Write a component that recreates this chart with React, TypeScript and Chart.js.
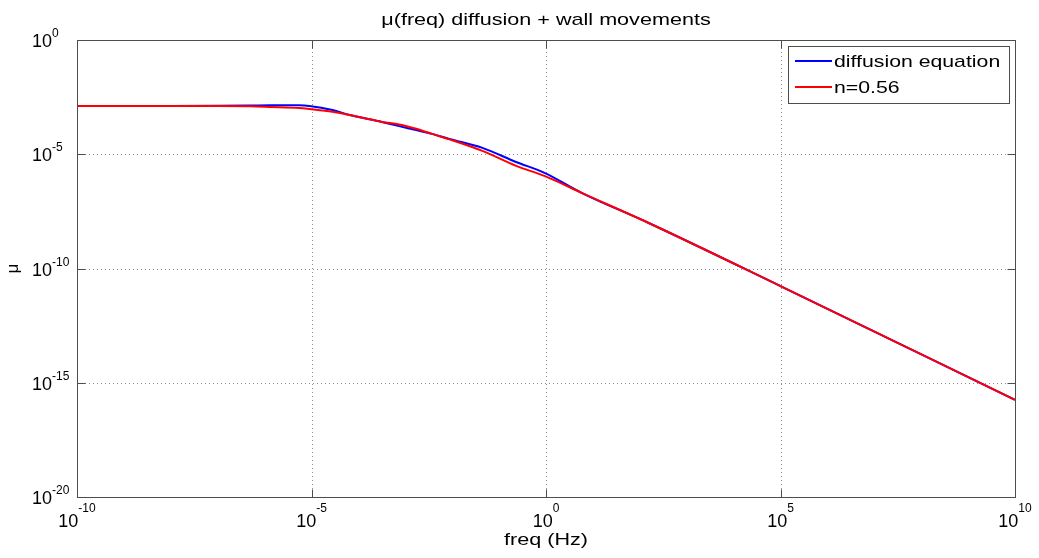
import React, { useEffect, useRef } from "react";
import { Chart, registerables } from "chart.js";

Chart.register(...registerables);

// ---- data ----
const freq = [1e-10, 1e-8, 1e-7, 5e-7, 1.3e-6, 5.5e-6, 9e-6, 2.8e-5, 6.5e-5, 3.2e-4, 7.4e-4, 1.7e-3, 3.7e-3, 8.7e-3, 0.044, 0.23, 0.95, 5.9, 155, 1e5, 1e10];
const muDiffusion = [1.3e-3, 1.3e-3, 1.32e-3, 1.35e-3, 1.38e-3, 1.38e-3, 1.3e-3, 8.7e-4, 5.2e-4, 2.6e-4, 1.7e-4, 1.15e-4, 7.8e-5, 4.7e-5, 1.9e-5, 4.6e-6, 1.5e-6, 2.0e-7, 9.8e-9, 1.7e-11, 1.8e-16];
const muFit = [1.3e-3, 1.3e-3, 1.3e-3, 1.25e-3, 1.17e-3, 1.05e-3, 9.5e-4, 7.2e-4, 5.2e-4, 2.6e-4, 2.0e-4, 1.3e-4, 7.8e-5, 4.5e-5, 1.4e-5, 3.1e-6, 1.1e-6, 2.0e-7, 9.8e-9, 1.7e-11, 1.8e-16];
const seriesLabels = ["diffusion equation", "n=0.56"];
const xTickExponents = [-10, -5, 0, 5, 10];
const yTickExponents = [-20, -15, -10, -5, 0];
const titleText = "\u03bc(freq) diffusion + wall movements";
const xTitle = "freq (Hz)";
const yTitle = "\u03bc";

const FONT = '"Liberation Sans", Arial, sans-serif';
const SX = 1.27;

function stretchedText(ctx: CanvasRenderingContext2D, text: string, x: number, y: number, size: number, align: CanvasTextAlign, sx: number) {
  ctx.save();
  ctx.font = `${size}px ${FONT}`;
  ctx.textAlign = align;
  ctx.textBaseline = "alphabetic";
  ctx.translate(x, y);
  ctx.scale(sx, 1);
  ctx.fillText(text, 0, 0);
  ctx.restore();
}

const matlabPlugin = {
  id: "matlabDecor",
  beforeDatasetsDraw(chart: any) {
    const ctx = chart.ctx as CanvasRenderingContext2D;
    const { left, right, top, bottom } = chart.chartArea;
    const xs = chart.scales.x;
    const ys = chart.scales.y;
    ctx.save();
    ctx.strokeStyle = "#8c8c8c";
    ctx.lineWidth = 1;
    ctx.setLineDash([1, 3]);
    xTickExponents.forEach((e) => {
      const px = Math.round(xs.getPixelForValue(Math.pow(10, e))) + 0.5;
      if (px <= left + 1 || px >= right - 1) return;
      ctx.beginPath();
      ctx.moveTo(px, top);
      ctx.lineTo(px, bottom);
      ctx.stroke();
    });
    yTickExponents.forEach((e) => {
      const py = Math.round(ys.getPixelForValue(Math.pow(10, e))) + 0.5;
      if (py <= top + 1 || py >= bottom - 1) return;
      ctx.beginPath();
      ctx.moveTo(left, py);
      ctx.lineTo(right, py);
      ctx.stroke();
    });
    ctx.restore();
  },
  afterDraw(chart: any) {
    const ctx = chart.ctx as CanvasRenderingContext2D;
    const { left, right, top, bottom } = chart.chartArea;
    const xs = chart.scales.x;
    const ys = chart.scales.y;
    const L = Math.round(left) + 0.5;
    const R = Math.round(right) + 0.5;
    const T = Math.round(top) + 0.5;
    const B = Math.round(bottom) + 0.5;
    ctx.save();
    // box
    ctx.strokeStyle = "#4d4d4d";
    ctx.lineWidth = 1;
    ctx.strokeRect(L, T, R - L, B - T);
    // inward ticks
    const tl = 8;
    xTickExponents.forEach((e) => {
      const px = Math.round(xs.getPixelForValue(Math.pow(10, e))) + 0.5;
      ctx.beginPath();
      ctx.moveTo(px, B);
      ctx.lineTo(px, B - tl);
      ctx.moveTo(px, T);
      ctx.lineTo(px, T + tl);
      ctx.stroke();
    });
    yTickExponents.forEach((e) => {
      const py = Math.round(ys.getPixelForValue(Math.pow(10, e))) + 0.5;
      ctx.beginPath();
      ctx.moveTo(L, py);
      ctx.lineTo(L + tl, py);
      ctx.moveTo(R, py);
      ctx.lineTo(R - tl, py);
      ctx.stroke();
    });
    // tick labels
    ctx.fillStyle = "#000";
    ctx.textBaseline = "alphabetic";
    xTickExponents.forEach((e) => {
      const px = xs.getPixelForValue(Math.pow(10, e));
      ctx.font = `18px ${FONT}`;
      const w1 = ctx.measureText("10").width;
      ctx.font = `12px ${FONT}`;
      const es = String(e);
      const w2 = ctx.measureText(es).width;
      const x0 = px - (w1 + w2) / 2;
      ctx.textAlign = "left";
      ctx.font = `18px ${FONT}`;
      ctx.fillText("10", x0, bottom + 30);
      ctx.font = `12px ${FONT}`;
      ctx.fillText(es, x0 + w1, bottom + 15);
    });
    yTickExponents.forEach((e) => {
      const py = ys.getPixelForValue(Math.pow(10, e));
      ctx.textAlign = "left";
      ctx.font = `18px ${FONT}`;
      const w1 = ctx.measureText("10").width;
      ctx.fillText("10", 32, py + 7);
      ctx.font = `12px ${FONT}`;
      ctx.fillText(String(e), 32 + w1, py - 3);
    });
    // titles
    const cx = (left + right) / 2;
    stretchedText(ctx, titleText, cx, 25, 17, "center", SX);
    stretchedText(ctx, xTitle, cx, 545, 17, "center", SX);
    ctx.save();
    ctx.translate(13, (top + bottom) / 2);
    ctx.rotate(-Math.PI / 2);
    ctx.font = `17px ${FONT}`;
    ctx.textAlign = "center";
    ctx.textBaseline = "middle";
    ctx.fillText(yTitle, 0, 0);
    ctx.restore();
    // legend
    const lx = 788.5, ly = 46.5, lw = 221, lh = 57;
    ctx.fillStyle = "#fff";
    ctx.fillRect(lx, ly, lw, lh);
    ctx.strokeStyle = "#4d4d4d";
    ctx.lineWidth = 1;
    ctx.strokeRect(lx, ly, lw, lh);
    const ds = chart.data.datasets;
    const rowsY = [61, 87];
    [0, 1].forEach((i) => {
      const d = ds.find((q: any) => q.label === seriesLabels[i]);
      ctx.strokeStyle = d.borderColor;
      ctx.lineWidth = 2;
      ctx.beginPath();
      ctx.moveTo(795, rowsY[i]);
      ctx.lineTo(832, rowsY[i]);
      ctx.stroke();
      ctx.fillStyle = "#000";
      stretchedText(ctx, seriesLabels[i], 834, rowsY[i] + 6, 17, "left", 1.25);
    });
    ctx.restore();
  },
};

export default function App() {
  const ref = useRef<HTMLCanvasElement | null>(null);
  useEffect(() => {
    document.body.style.margin = "0";
    const canvas = ref.current;
    if (!canvas) return;
    const chart = new Chart(canvas, {
      type: "line",
      data: {
        datasets: [
          {
            label: seriesLabels[0],
            data: freq.map((f, i) => ({ x: f, y: muDiffusion[i] })),
            borderColor: "#0000ff",
            backgroundColor: "#0000ff",
            borderWidth: 2,
            pointRadius: 0,
            cubicInterpolationMode: "monotone",
            order: 2,
          },
          {
            label: seriesLabels[1],
            data: freq.map((f, i) => ({ x: f, y: muFit[i] })),
            borderColor: "#ff0000",
            backgroundColor: "#ff0000",
            borderWidth: 2,
            pointRadius: 0,
            cubicInterpolationMode: "monotone",
            order: 1,
          },
        ],
      },
      options: {
        animation: false,
        responsive: false,
        devicePixelRatio: 1,
        layout: { padding: { top: 40, right: 24, left: 0, bottom: 0 } },
        plugins: { legend: { display: false }, title: { display: false }, tooltip: { enabled: false } },
        scales: {
          x: {
            type: "logarithmic",
            min: 1e-10,
            max: 1e10,
            grid: { display: false },
            border: { display: false },
            ticks: { display: false },
            afterFit: (s: any) => { s.height = 61; },
          },
          y: {
            type: "logarithmic",
            min: 1e-20,
            max: 1,
            grid: { display: false },
            border: { display: false },
            ticks: { display: false },
            afterFit: (s: any) => { s.width = 77; },
          },
        },
      } as any,
      plugins: [matlabPlugin],
    });
    return () => chart.destroy();
  }, []);
  return <canvas ref={ref} width={1039} height={558} style={{ display: "block" }} />;
}
